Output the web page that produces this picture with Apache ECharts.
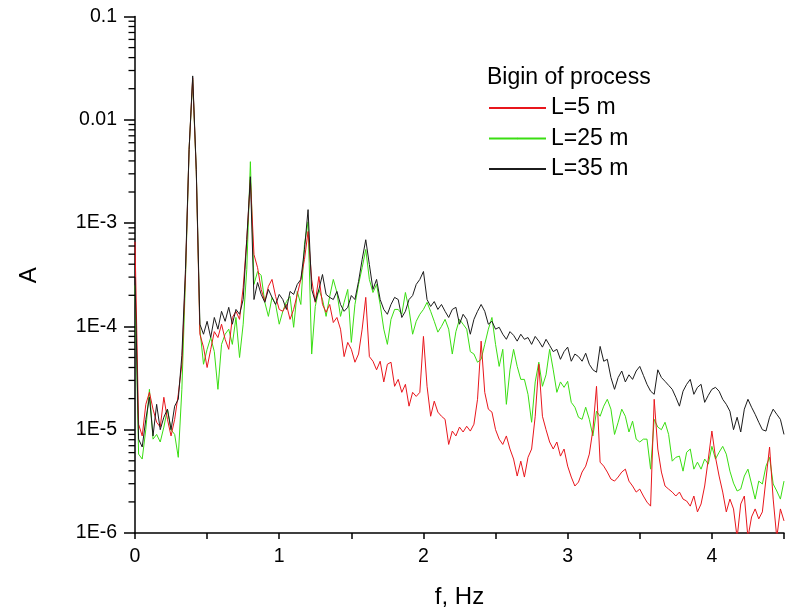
<!DOCTYPE html>
<html>
<head>
<meta charset="utf-8">
<title>Spectrum A(f)</title>
<script src="https://cdn.jsdelivr.net/npm/echarts@6/dist/echarts.min.js"></script>
<style>
  html, body { margin: 0; padding: 0; background: #fff; }
  #chart { width: 794px; height: 614px; }
</style>
</head>
<body>
<div id="chart"></div>
<script>
// Frequency grid of the spectra, Hz (uniform sampling step)
const FREQ_STEP = 0.025;
const FREQ_COUNT = 181;
const freq = Array.from({ length: FREQ_COUNT }, (_, i) => +(i * FREQ_STEP).toFixed(3));

// Spectral amplitude, L = 5 m
const ampL5 = [
  6.6e-4, 1.13e-5, 8.7e-6, 1.76e-5, 2.3e-5, 1.58e-5, 1.18e-5, 1.06e-5, 2.06e-5, 1.26e-5,
  8.7e-6, 1.26e-5, 2.2e-5, 4.3e-5, 3.18e-4, 5.13e-3, 2.55e-2, 3.15e-3, 8.4e-5, 6.3e-5,
  4.0e-5, 6.0e-5, 8.9e-5, 7.8e-5, 1.05e-4, 7.5e-5, 6.0e-5, 1.22e-4, 1.40e-4, 1.17e-4,
  2.38e-4, 6.9e-4, 2.63e-3, 4.96e-4, 3.7e-4, 2.28e-4, 1.74e-4, 2.44e-4, 2.85e-4, 1.95e-4,
  1.46e-4, 1.40e-4, 1.63e-4, 1.17e-4, 1.46e-4, 2.04e-4, 2.85e-4, 4.44e-4, 8.3e-4, 2.85e-4,
  1.71e-4, 3.04e-4, 1.63e-4, 1.37e-4, 1.63e-4, 1.09e-4, 1.22e-4, 9.4e-5, 5.1e-5, 7.0e-5,
  6.0e-5, 4.5e-5, 5.4e-5, 9.4e-5, 1.91e-4, 5.1e-5, 4.6e-5, 3.8e-5, 4.6e-5, 2.9e-5,
  4.3e-5, 4.5e-5, 2.63e-5, 3.07e-5, 2.3e-5, 2.75e-5, 1.69e-5, 2.3e-5, 2.1e-5, 2.3e-5,
  8.0e-5, 2.63e-5, 1.35e-5, 1.89e-5, 1.48e-5, 1.35e-5, 1.26e-5, 7.2e-6, 9.7e-6, 8.7e-6,
  1.06e-5, 9.5e-6, 1.08e-5, 9.7e-6, 1.13e-5, 1.97e-5, 7.2e-5, 2.3e-5, 1.58e-5, 1.48e-5,
  1.0e-5, 8.1e-6, 7.2e-6, 8.7e-6, 6.5e-6, 5.2e-6, 3.56e-6, 4.96e-6, 3.48e-6, 5.4e-6,
  6.5e-6, 1.35e-5, 4.3e-5, 1.35e-5, 1.0e-5, 7.6e-6, 6.5e-6, 7.6e-6, 5.55e-6, 6.5e-6,
  4.44e-6, 3.48e-6, 2.85e-6, 3.11e-6, 3.89e-6, 4.44e-6, 5.8e-6, 1.0e-5, 2.63e-5, 4.85e-6,
  4.44e-6, 3.89e-6, 3.33e-6, 3.18e-6, 3.48e-6, 3.89e-6, 4.15e-6, 3.18e-6, 2.85e-6, 2.49e-6,
  2.66e-6, 2.28e-6, 1.99e-6, 1.82e-6, 1.97e-5, 6.5e-6, 3.89e-6, 2.85e-6, 2.66e-6, 2.49e-6,
  2.28e-6, 2.49e-6, 2.13e-6, 2.04e-6, 1.82e-6, 2.28e-6, 1.6e-6, 1.91e-6, 2.85e-6, 5.2e-6,
  9.7e-6, 5.4e-6, 3.56e-6, 2.49e-6, 1.6e-6, 2.13e-6, 1.71e-6, 9e-7, 1.91e-6, 2.28e-6,
  9e-7, 1.43e-6, 1.71e-6, 1.37e-6, 1.6e-6, 3.33e-6, 6.8e-6, 2.13e-6, 9e-7, 1.71e-6,
  1.31e-6
];

// Spectral amplitude, L = 25 m
const ampL25 = [
  2.5e-4, 5.8e-6, 5.2e-6, 1.01e-5, 2.46e-5, 8.1e-6, 9.0e-6, 7.6e-6, 1.06e-5, 1.58e-5,
  1.0e-5, 9.0e-6, 5.4e-6, 2.46e-5, 2.85e-4, 5.13e-3, 2.44e-2, 3.15e-3, 9.4e-5, 4.3e-5,
  6.0e-5, 7.8e-5, 5.7e-5, 2.46e-5, 6.7e-5, 8.4e-5, 9.4e-5, 6.7e-5, 1.22e-4, 5.0e-5,
  1.05e-4, 3.56e-4, 3.93e-3, 2.55e-4, 3.40e-4, 3.11e-4, 1.71e-4, 1.25e-4, 1.91e-4, 1.63e-4,
  1.05e-4, 1.40e-4, 1.74e-4, 1.95e-4, 9.8e-5, 2.18e-4, 1.63e-4, 6.2e-4, 1.03e-3, 5.4e-5,
  1.56e-4, 2.28e-4, 1.82e-4, 1.25e-4, 1.95e-4, 2.85e-4, 2.13e-4, 1.25e-4, 1.71e-4, 2.28e-4,
  7.0e-5, 1.63e-4, 2.55e-4, 3.7e-4, 5.55e-4, 2.85e-4, 2.13e-4, 2.55e-4, 1.63e-4, 9.4e-5,
  6.7e-5, 1.17e-4, 1.46e-4, 1.46e-4, 1.31e-4, 2.13e-4, 1.46e-4, 8.4e-5, 1.12e-4, 1.31e-4,
  1.46e-4, 1.71e-4, 1.40e-4, 1.12e-4, 8.8e-5, 1.0e-4, 1.17e-4, 9.4e-5, 5.4e-5, 8.9e-5,
  1.17e-4, 1.05e-4, 9.4e-5, 5.7e-5, 5.4e-5, 4.5e-5, 4.8e-5, 6.7e-5, 9.4e-5, 1.22e-4,
  6.7e-5, 4.1e-5, 6.0e-5, 1.76e-5, 3.8e-5, 6.0e-5, 4.1e-5, 3.07e-5, 3.07e-5, 2.2e-5,
  1.18e-5, 2.9e-5, 4.5e-5, 2.63e-5, 3.4e-5, 6.0e-5, 3.8e-5, 2.3e-5, 2.9e-5, 2.57e-5,
  2.94e-5, 1.84e-5, 1.65e-5, 1.32e-5, 1.26e-5, 1.65e-5, 1.26e-5, 8.7e-6, 1.51e-5, 1.35e-5,
  1.69e-5, 1.97e-5, 1.58e-5, 9.0e-6, 1.18e-5, 1.58e-5, 1.35e-5, 9.5e-6, 1.21e-5, 8.1e-6,
  7.6e-6, 8.1e-6, 8.1e-6, 4.15e-6, 1.26e-5, 1.06e-5, 1.0e-5, 1.18e-5, 9.0e-6, 4.96e-6,
  5.4e-6, 5.55e-6, 3.97e-6, 6.05e-6, 6.5e-6, 4.15e-6, 4.85e-6, 4.15e-6, 5.2e-6, 4.64e-6,
  6.9e-6, 5.2e-6, 6.05e-6, 6.9e-6, 5.8e-6, 3.97e-6, 3.04e-6, 2.55e-6, 2.66e-6, 3.56e-6,
  4.15e-6, 2.98e-6, 2.13e-6, 3.18e-6, 2.98e-6, 4.44e-6, 5.4e-6, 2.98e-6, 2.55e-6, 2.13e-6,
  3.18e-6
];

// Spectral amplitude, L = 35 m
const ampL35 = [
  3.0e-4, 8.1e-6, 6.8e-6, 1.26e-5, 2.06e-5, 8.7e-6, 1.76e-5, 1.0e-5, 1.32e-5, 1.58e-5,
  1.0e-5, 1.69e-5, 1.97e-5, 5.25e-5, 3.56e-4, 5.13e-3, 2.66e-2, 3.29e-3, 1.05e-4, 8.4e-5,
  1.12e-4, 7.8e-5, 1.22e-4, 9.4e-5, 1.40e-4, 1.12e-4, 1.53e-4, 1.05e-4, 1.46e-4, 1.31e-4,
  1.82e-4, 6.9e-4, 2.81e-3, 1.82e-4, 2.66e-4, 2.04e-4, 1.71e-4, 2.28e-4, 1.91e-4, 1.63e-4,
  2.04e-4, 1.82e-4, 1.46e-4, 2.18e-4, 2.04e-4, 2.55e-4, 2.85e-4, 5.55e-4, 1.35e-3, 2.28e-4,
  1.74e-4, 2.28e-4, 3.18e-4, 2.04e-4, 1.91e-4, 1.82e-4, 2.18e-4, 1.63e-4, 1.40e-4, 1.53e-4,
  1.99e-4, 1.82e-4, 2.72e-4, 4.44e-4, 6.9e-4, 3.97e-4, 2.28e-4, 2.85e-4, 1.82e-4, 1.46e-4,
  1.31e-4, 1.63e-4, 1.91e-4, 1.82e-4, 1.22e-4, 1.40e-4, 1.82e-4, 1.99e-4, 2.55e-4, 2.85e-4,
  3.40e-4, 1.82e-4, 1.56e-4, 1.74e-4, 1.46e-4, 1.63e-4, 1.40e-4, 1.22e-4, 1.46e-4, 1.53e-4,
  1.05e-4, 1.31e-4, 1.17e-4, 8.4e-5, 1.17e-4, 1.40e-4, 1.63e-4, 1.40e-4, 1.05e-4, 1.12e-4,
  9.4e-5, 9.8e-5, 8.4e-5, 7.5e-5, 8.9e-5, 8.2e-5, 7.2e-5, 8.4e-5, 7.5e-5, 7.8e-5,
  6.7e-5, 8.0e-5, 7.2e-5, 6.3e-5, 7.5e-5, 6.55e-5, 5.7e-5, 6.0e-5, 4.8e-5, 5.7e-5,
  6.3e-5, 4.6e-5, 5.4e-5, 5.1e-5, 4.6e-5, 5.5e-5, 4.3e-5, 3.8e-5, 3.6e-5, 6.4e-5,
  4.6e-5, 4.8e-5, 3.2e-5, 2.46e-5, 3.2e-5, 3.7e-5, 2.9e-5, 3.4e-5, 3.07e-5, 3.7e-5,
  4.1e-5, 3.36e-5, 2.75e-5, 2.36e-5, 2.2e-5, 3.8e-5, 3.2e-5, 2.94e-5, 2.69e-5, 2.46e-5,
  2.06e-5, 1.69e-5, 2.36e-5, 2.75e-5, 3.07e-5, 2.2e-5, 2.57e-5, 2.75e-5, 1.84e-5, 2.15e-5,
  2.46e-5, 2.57e-5, 2.36e-5, 1.97e-5, 1.76e-5, 1.51e-5, 1.0e-5, 1.32e-5, 9.5e-6, 1.58e-5,
  1.97e-5, 1.65e-5, 1.41e-5, 1.18e-5, 1.0e-5, 9.7e-6, 1.32e-5, 1.58e-5, 1.41e-5, 1.26e-5,
  9.0e-6
];

// Series names and colours
const seriesNames = ['L=5 m', 'L=25 m', 'L=35 m'];
const seriesColors = ['#e8161c', '#3ade12', '#1c1c1c'];
const legendTitle = 'Bigin of process';
const xAxisTitle = 'f, Hz';
const yAxisTitle = 'A';

// Axis ticks and labels
const xTickLabels = ['0', '1', '2', '3', '4'];
const yDecades = [1e-6, 1e-5, 1e-4, 1e-3, 1e-2, 1e-1];
const yTickLabels = ['1E-6', '1E-5', '1E-4', '1E-3', '0.01', '0.1'];
const yMinorMultipliers = [2, 3, 4, 5, 6, 7, 8, 9];

const FONT = '"Liberation Sans", Arial, Helvetica, sans-serif';

const pairs = arr => arr.map((v, i) => [freq[i], v]);

// Minor tick positions on the logarithmic axis (2..9 within each decade)
const yMinorTicks = [];
yDecades.slice(0, -1).forEach(d => yMinorMultipliers.forEach(m => yMinorTicks.push([0, d * m])));

function yLabel(v) {
  const e = Math.round(Math.log10(v));
  const idx = yDecades.findIndex(d => Math.round(Math.log10(d)) === e);
  return idx >= 0 ? yTickLabels[idx] : '';
}

function xLabel(v) {
  const r = Math.round(v * 1000) / 1000;
  return Number.isInteger(r) && xTickLabels.includes(String(r)) ? String(r) : '';
}

const lineSeries = (name, data, color) => ({
  name, type: 'line', data: pairs(data),
  showSymbol: false, symbol: 'none',
  lineStyle: { color, width: 1 },
  itemStyle: { color },
  emphasis: { disabled: true },
  animation: false, z: 2
});

const GRID = { left: 135, top: 16.5, width: 649, height: 517.5 };

const chart = echarts.init(document.getElementById('chart'), null, { renderer: 'canvas' });

chart.setOption({
  backgroundColor: '#ffffff',
  animation: false,
  textStyle: { fontFamily: FONT },
  title: {
    text: legendTitle,
    left: 487, top: 66, padding: 0,
    textStyle: { fontFamily: FONT, fontSize: 23, fontWeight: 'normal', color: '#000' }
  },
  legend: {
    data: seriesNames,
    orient: 'vertical',
    left: 488, top: 96, padding: 0,
    itemWidth: 57, itemHeight: 2, itemGap: 6.5,
    textStyle: { fontFamily: FONT, fontSize: 23, lineHeight: 24, color: '#000' },
    selectedMode: false
  },
  // vertical axis title, rotated to read bottom-to-top
  graphic: [{
    type: 'text',
    x: 29, y: GRID.top + GRID.height / 2,
    rotation: Math.PI / 2,
    style: {
      text: yAxisTitle, fill: '#000',
      font: '24px ' + FONT,
      align: 'center', verticalAlign: 'middle'
    },
    silent: true
  }],
  grid: Object.assign({ containLabel: false }, GRID),
  xAxis: {
    type: 'value', min: 0, max: 4.5, interval: 0.5,
    name: xAxisTitle, nameLocation: 'middle', nameGap: 52,
    nameTextStyle: { fontFamily: FONT, fontSize: 24, color: '#000' },
    axisLine: { show: true, lineStyle: { color: '#000', width: 1.5 } },
    axisTick: { show: true, inside: false, length: 6, lineStyle: { color: '#000', width: 1.5 } },
    axisLabel: { formatter: xLabel, margin: 14, fontFamily: FONT, fontSize: 19.5, color: '#000', showMinLabel: true, showMaxLabel: true },
    splitLine: { show: false }
  },
  yAxis: {
    type: 'log', logBase: 10, min: 1e-6, max: 0.1,
    axisLine: { show: true, onZero: false, lineStyle: { color: '#000', width: 1.5 } },
    axisTick: { show: true, inside: false, length: 11, lineStyle: { color: '#000', width: 1.5 } },
    axisLabel: { formatter: yLabel, margin: 18, fontFamily: FONT, fontSize: 19.5, color: '#000' },
    splitLine: { show: false },
    minorTick: { show: false }
  },
  series: [
    lineSeries(seriesNames[1], ampL25, seriesColors[1]),
    lineSeries(seriesNames[0], ampL5, seriesColors[0]),
    lineSeries(seriesNames[2], ampL35, seriesColors[2]),
    {
      // minor ticks of the log axis, placed through the axis scale
      type: 'custom', name: 'yMinor', data: yMinorTicks, silent: true, clip: false,
      encode: { x: 0, y: 1 }, z: 5, animation: false,
      renderItem: (params, api) => {
        const p = api.coord([api.value(0), api.value(1)]);
        return {
          type: 'line',
          shape: { x1: p[0] - 6.5, y1: p[1], x2: p[0], y2: p[1] },
          style: { stroke: '#000', lineWidth: 1.3 }
        };
      }
    }
  ]
});
</script>
</body>
</html>
